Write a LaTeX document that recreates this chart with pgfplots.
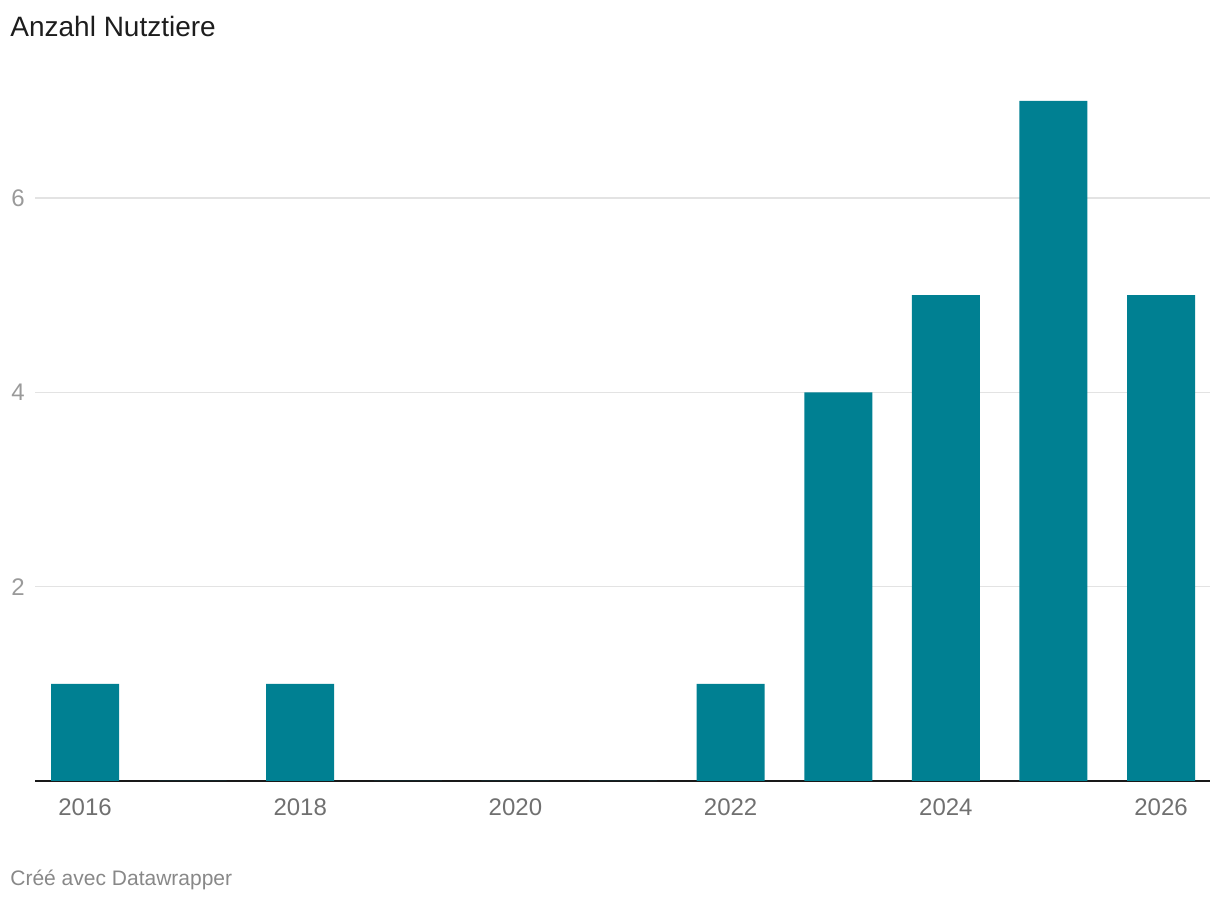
\documentclass[border=0pt]{standalone}
\usepackage{fontspec}
\setmainfont{Liberation Sans}
\usepackage{pgfplots}
\pgfplotsset{compat=1.18}
\definecolor{barteal}{HTML}{008092}
\definecolor{gridgray}{HTML}{E3E3E3}
\definecolor{xlab}{HTML}{707070}
\definecolor{ylab}{HTML}{9A9A9A}
\definecolor{foot}{HTML}{888888}
\definecolor{titlec}{HTML}{1D1D1D}
\begin{document}
\begin{tikzpicture}
% 1px = 0.5pt, page 1220x904 px
\useasboundingbox (0,0) rectangle (610pt,452pt);
\node[anchor=west, text=titlec, font=\fontsize{14}{16}\selectfont, inner sep=0] at (5pt,438.5pt) {Anzahl Nutztiere};
\node[anchor=west, text=foot, font=\fontsize{10.5}{12}\selectfont, inner sep=0] at (5pt,12pt) {Créé avec Datawrapper};
\begin{axis}[
    at={(17.5pt,61.5pt)}, anchor=south west,
    scale only axis,
    width=587.5pt, height=350.5pt,
    xmin=2015.535, xmax=2026.455,
    ymin=0, ymax=7.214,
    xtick={2016,2018,2020,2022,2024,2026},
    ytick={2,4,6},
    /pgf/number format/1000 sep={},
    /pgf/number format/assume math mode=true,
    major tick length=0,
    axis x line*=bottom,
    axis y line*=left,
    y axis line style={draw=none},
    x axis line style={draw=black!90, line width=1pt},
    ymajorgrids=true,
    grid style={gridgray, line width=0.6pt},
    xticklabel style={text=xlab, font=\fontsize{12}{14}\selectfont, inner sep=0, yshift=-8.5pt},
    yticklabel style={text=ylab, font=\fontsize{12}{14}\selectfont, inner sep=0, anchor=west, xshift=-12pt},
    ybar, bar width=34pt, bar shift=0pt,
]
\addplot[fill=barteal, draw=none] coordinates {
    (2016,1) (2017,0) (2018,1) (2019,0) (2020,0) (2021,0)
    (2022,1) (2023,4) (2024,5) (2025,7) (2026,5)
};
\end{axis}
\end{tikzpicture}
\end{document}
